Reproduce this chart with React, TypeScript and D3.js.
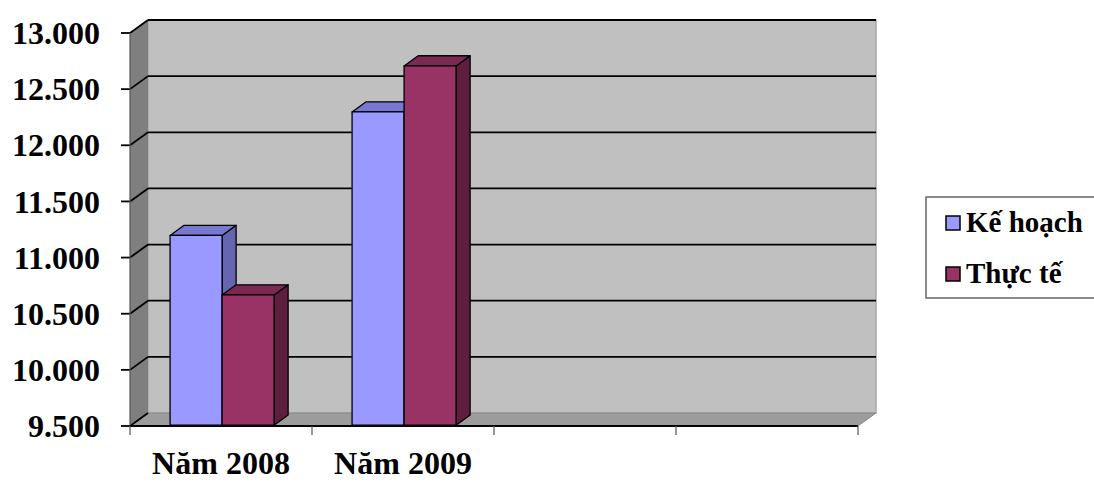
import React from "react";
import * as d3 from "d3";

const categories = ["Năm 2008", "Năm 2009", "c3", "c4"];
const categoryLabels = ["Năm 2008", "Năm 2009", "", ""];
const seriesNames = ["Kế hoạch", "Thực tế"];
const keHoach = [11190, 12290];
const thucTe = [10660, 12700];
const yTicks = [9500, 10000, 10500, 11000, 11500, 12000, 12500, 13000];

const seriesValues = [keHoach, thucTe];
const seriesColors = [
  { front: "#9999FF", top: "#7878D0", side: "#6666B0" },
  { front: "#993366", top: "#7A2A52", side: "#5E1F3E" },
];

const locale = d3.formatLocale({ decimal: ",", thousands: ".", grouping: [3], currency: ["", ""] });
const fmt = locale.format(",d");

export default function App() {
  const W = 1094, H = 482;
  const left = 130, right = 858, top = 33, bottom = 426;
  const DX = 18, DY = -13;
  const y = d3.scaleLinear().domain([9500, 13000]).range([bottom, top]);
  const x = d3.scaleBand().domain(categories).range([left, right]).padding(0);
  const inner = d3.scaleBand().domain(seriesNames).range([0, x.bandwidth()]).paddingOuter(0.75).paddingInner(0);
  const z0 = 0.06, z1 = 0.84;
  const font = "'Liberation Serif', 'Times New Roman', serif";

  const pts = (arr: number[][]) => arr.map((p) => p.join(",")).join(" ");

  const bars: React.ReactNode[] = [];
  categories.forEach((c, ci) => {
    seriesNames.forEach((s, si) => {
      const v = seriesValues[si][ci];
      if (v === undefined) return;
      const x0 = (x(c) as number) + (inner(s) as number) + DX * z0;
      const x1 = x0 + inner.bandwidth();
      const yb = y(9500) + DY * z0;
      const yt = y(v) + DY * z0;
      const ddx = DX * (z1 - z0), ddy = DY * (z1 - z0);
      const col = seriesColors[si];
      bars.push(
        <g key={c + s} stroke="#000" strokeWidth={1.3} strokeLinejoin="round">
          <polygon points={pts([[x1, yt], [x1 + ddx, yt + ddy], [x1 + ddx, yb + ddy], [x1, yb]])} fill={col.side} />
          <polygon points={pts([[x0, yt], [x1, yt], [x1 + ddx, yt + ddy], [x0 + ddx, yt + ddy]])} fill={col.top} />
          <rect x={x0} y={yt} width={x1 - x0} height={yb - yt} fill={col.front} />
        </g>
      );
    });
  });

  return (
    <svg width={W} height={H} style={{ position: "absolute", left: 0, top: 0, background: "#fff" }}>
      {/* back wall */}
      <rect x={left + DX} y={top + DY} width={right - left} height={bottom - top} fill="#C0C0C0" stroke="#A8A8A8" strokeWidth={1.5} />
      <line x1={left + DX} x2={right + DX} y1={top + DY} y2={top + DY} stroke="#333" strokeWidth={2} />
      {/* side wall */}
      <polygon points={pts([[left, top], [left + DX, top + DY], [left + DX, bottom + DY], [left, bottom]])} fill="#7F7F7F" />
      {/* floor */}
      <polygon points={pts([[left, bottom], [right, bottom], [right + DX, bottom + DY], [left + DX, bottom + DY]])} fill="#9C9C9C" stroke="#8a8a8a" strokeWidth={1} />
      {/* gridlines */}
      {yTicks.map((t) => (
        <g key={t} stroke="#000" strokeWidth={1.8} fill="none">
          {t > 9500 && <line x1={left + DX} x2={right + DX} y1={y(t) + DY} y2={y(t) + DY} />}
          <line x1={left} y1={y(t)} x2={left + DX} y2={y(t) + DY} />
          <line x1={left - 9} x2={left} y1={y(t)} y2={y(t)} />
        </g>
      ))}
      {/* axes */}
      <line x1={left} x2={left} y1={top} y2={bottom} stroke="#555" strokeWidth={1.2} />
      <line x1={left} x2={right} y1={bottom} y2={bottom} stroke="#000" strokeWidth={2} />
      {[...categories.map((c) => x(c) as number), right].map((tx, i) => (
        <line key={i} x1={tx} x2={tx} y1={bottom} y2={bottom + 9} stroke="#555" strokeWidth={1.2} />
      ))}
      {bars}
      {/* y labels */}
      {yTicks.map((t) => (
        <text key={t} x={100} y={y(t)} dy="0.35em" textAnchor="end" fontFamily={font} fontWeight="bold" fontSize={32} fill="#000">
          {fmt(t)}
        </text>
      ))}
      {/* x labels */}
      {categories.map((c, i) => (
        <text key={c} x={(x(c) as number) + x.bandwidth() / 2} y={474} textAnchor="middle" fontFamily={font} fontWeight="bold" fontSize={32} fill="#000">
          {categoryLabels[i]}
        </text>
      ))}
      {/* legend */}
      <rect x={926} y={197} width={170} height={101} fill="#fff" stroke="#666" strokeWidth={1.5} />
      {seriesNames.map((s, i) => (
        <g key={s}>
          <rect x={946} y={216 + i * 51} width={14} height={14} fill={seriesColors[i].front} stroke="#000" strokeWidth={1.5} />
          <text x={966} y={232 + i * 51} fontFamily={font} fontWeight="bold" fontSize={29} fill="#000">{s}</text>
        </g>
      ))}
    </svg>
  );
}
